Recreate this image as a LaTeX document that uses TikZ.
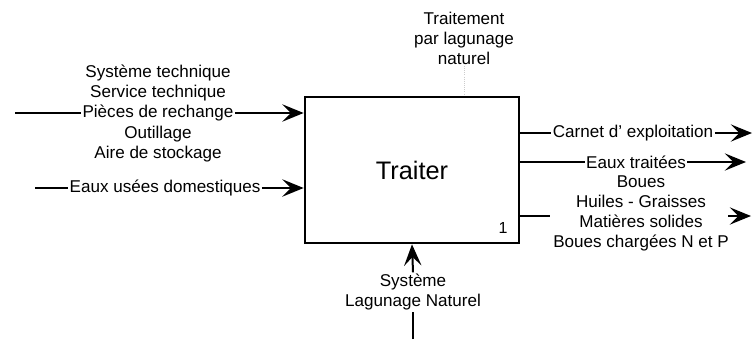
\documentclass[tikz,border=0pt]{standalone}
\usepackage{fontspec}
\setmainfont{Liberation Sans}
\usetikzlibrary{arrows.meta, positioning}

\begin{document}
\begin{tikzpicture}[
    x=0.75pt, y=-0.75pt,
    func/.style={rectangle, draw=black, line width=2pt, minimum width=160.5pt, minimum height=109.5pt, font=\fontsize{19}{20}\selectfont},
    lbl/.style={font=\fontsize{12.8}{15}\selectfont, align=center, inner sep=1pt},
    flow/.style={line width=1.5pt},
    arr/.style={-{Stealth[length=16pt, width=13pt, inset=6.5pt]}}
]
\useasboundingbox (0,0) rectangle (753,340);

% -- ACTIVITY --
\node[func] (act) at (412,170) {Traiter};
\node[font=\fontsize{12}{14}\selectfont, inner sep=0pt] (idx) at (503,228) {1};

% -- INPUTS (left) --
\node[lbl] (pieces) at (158,113) {Pièces de rechange};
\node[lbl] (tech) at (158,83) {Système technique\\Service technique};
\node[lbl] (outil) at (158,144) {Outillage\\Aire de stockage};
\coordinate (in1) at (15,113);
\draw[flow] (in1) -- (pieces.west);
\draw[flow, arr] (pieces.east) -- (act.west |- pieces);

\node[lbl] (eaux) at (165,188) {Eaux usées domestiques};
\coordinate (in2) at (35,188);
\draw[flow] (in2) -- (eaux.west);
\draw[flow, arr] (eaux.east) -- (act.west |- eaux);

% -- OUTPUTS (right) --
\node[lbl] (carnet) at (633,133) {Carnet d' exploitation};
\coordinate (out1) at (752,133);
\draw[flow] (act.east |- carnet) -- (carnet.west);
\draw[flow, arr] (carnet.east) -- (out1);

\node[lbl] (traitees) at (636,162) {Eaux traitées};
\coordinate (out2) at (746,162);
\draw[flow] (act.east |- traitees) -- (traitees.west);
\draw[flow, arr] (traitees.east) -- (out2);

\node[lbl] (boues) at (641,213) {Boues\\Huiles - Graisses\\Matières solides\\Boues chargées N et P};
\coordinate (out3a) at (550,216);
\coordinate (out3b) at (728,216);
\coordinate (out3c) at (751,216);
\draw[flow] (act.east |- out3a) -- (out3a);
\draw[flow, arr] (out3b) -- (out3c);

% -- CONTROL (top) --
\node[lbl] (ctrl) at (464,38) {Traitement\\par lagunage\\naturel};
\draw[gray!40, densely dotted, line width=0.6pt] (ctrl.south) -- (act.north -| ctrl);

% -- MECHANISM (bottom) --
\node[lbl] (mech) at (413,292) {Système\\Lagunage Naturel};
\coordinate (mechin) at (413,339);
\draw[flow] (mechin) -- (mech.south);
\draw[flow, arr] (mech.north) -- (act.south);

\end{tikzpicture}
\end{document}
